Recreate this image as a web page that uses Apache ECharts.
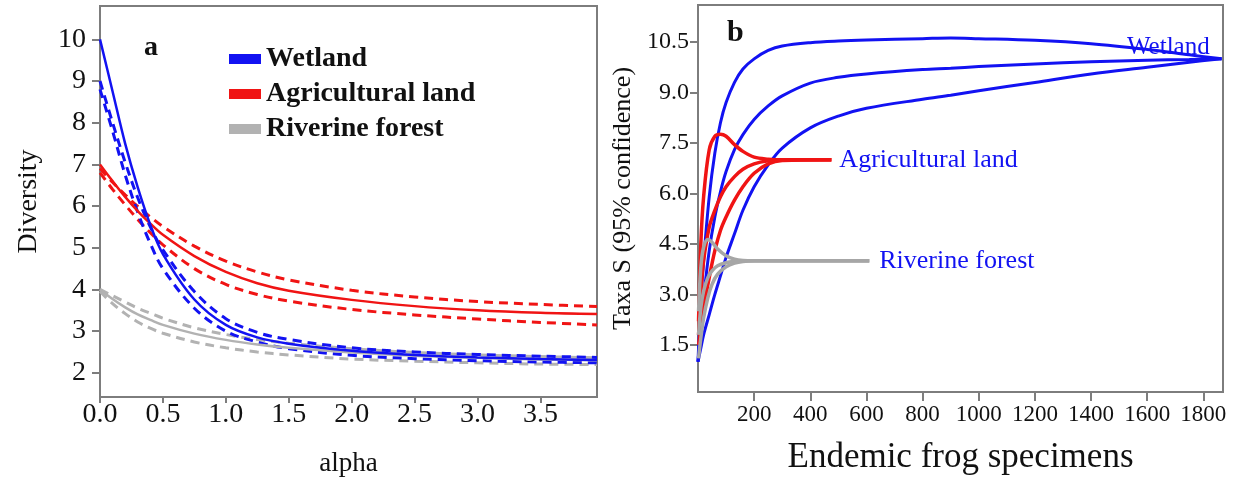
<!DOCTYPE html>
<html>
<head>
<meta charset="utf-8">
<script src="https://cdn.jsdelivr.net/npm/echarts@6/dist/echarts.min.js"></script>
<style>
  html, body { margin: 0; padding: 0; background: #fff; }
  #chart { width: 1238px; height: 479px; }
</style>
</head>
<body>
<div id="chart"></div>
<script>
// panel a: diversity profiles
const alphaVals = [0, 0.1, 0.2, 0.3, 0.4, 0.5, 0.75, 1.0, 1.25, 1.5, 2.0, 2.5, 3.0, 3.5, 3.95];
const wetMid   = [10, 8.75, 7.5, 6.45, 5.55, 4.85, 3.76, 3.15, 2.85, 2.7, 2.53, 2.43, 2.37, 2.33, 2.31];
const wetHigh  = [9.0, 8.0, 7.05, 6.2, 5.5, 4.95, 3.95, 3.3, 2.97, 2.8, 2.6, 2.5, 2.44, 2.4, 2.37];
const wetLow   = [8.8, 7.8, 6.75, 5.85, 5.1, 4.5, 3.55, 3.0, 2.74, 2.58, 2.42, 2.34, 2.29, 2.26, 2.24];
const agriMid  = [7.0, 6.6, 6.22, 5.88, 5.58, 5.31, 4.8, 4.42, 4.15, 3.97, 3.75, 3.6, 3.5, 3.44, 3.41];
const agriHigh = [6.9, 6.57, 6.27, 5.99, 5.74, 5.51, 5.04, 4.68, 4.42, 4.23, 3.98, 3.82, 3.71, 3.64, 3.59];
const agriLow  = [6.8, 6.4, 6.03, 5.68, 5.36, 5.07, 4.5, 4.12, 3.88, 3.72, 3.52, 3.39, 3.29, 3.21, 3.15];
const rivMid   = [4.0, 3.77, 3.57, 3.4, 3.27, 3.15, 2.94, 2.79, 2.68, 2.6, 2.49, 2.41, 2.36, 2.32, 2.3];
const rivHigh  = [4.0, 3.85, 3.7, 3.55, 3.43, 3.31, 3.08, 2.92, 2.8, 2.71, 2.58, 2.49, 2.43, 2.39, 2.36];
const rivLow   = [3.95, 3.66, 3.42, 3.22, 3.07, 2.95, 2.74, 2.6, 2.5, 2.43, 2.33, 2.28, 2.24, 2.21, 2.2];
const alphaTicks = [0, 0.5, 1, 1.5, 2, 2.5, 3, 3.5];
const diversityTicks = [2, 3, 4, 5, 6, 7, 8, 9, 10];

// panel b: rarefaction curves
const wetX   = [0, 10, 20, 40, 60, 80, 100, 130, 160, 200, 250, 300, 400, 500, 600, 800, 900, 1000, 1200, 1400, 1600, 1750, 1865];
const wetUp  = [1.0, 2.8, 4.0, 5.9, 7.2, 8.1, 8.7, 9.3, 9.7, 10.0, 10.25, 10.38, 10.48, 10.53, 10.56, 10.6, 10.62, 10.6, 10.55, 10.45, 10.28, 10.12, 10.0];
const wetS   = [1.0, 2.0, 2.9, 4.3, 5.3, 6.05, 6.65, 7.3, 7.75, 8.2, 8.6, 8.9, 9.28, 9.45, 9.55, 9.68, 9.72, 9.77, 9.85, 9.91, 9.96, 9.98, 10.0];
const wetDn  = [1.0, 1.4, 1.8, 2.4, 3.0, 3.55, 4.1, 4.8, 5.5, 6.2, 6.85, 7.35, 7.95, 8.3, 8.53, 8.8, 8.92, 9.05, 9.3, 9.55, 9.75, 9.9, 10.0];
const agriX  = [2, 10, 20, 40, 60, 80, 100, 130, 160, 200, 250, 300, 475];
const agriUp = [2.2, 4.5, 5.9, 7.3, 7.7, 7.76, 7.7, 7.45, 7.25, 7.08, 7.02, 7.0, 7.0];
const agriS  = [1.8, 3.0, 4.0, 5.0, 5.5, 5.9, 6.2, 6.5, 6.72, 6.88, 6.97, 7.0, 7.0];
const agriDn = [1.5, 2.0, 2.6, 3.5, 4.3, 4.9, 5.3, 5.8, 6.2, 6.6, 6.88, 6.98, 7.0];
const rivX   = [2, 10, 20, 35, 50, 70, 100, 130, 160, 200, 610];
const rivUp  = [2.5, 3.8, 4.4, 4.63, 4.55, 4.35, 4.15, 4.05, 4.01, 4.0, 4.0];
const rivS   = [1.8, 2.6, 3.1, 3.5, 3.7, 3.85, 3.94, 3.98, 4.0, 4.0, 4.0];
const rivDn  = [1.1, 1.7, 2.3, 2.9, 3.3, 3.6, 3.82, 3.93, 3.98, 4.0, 4.0];
const specTicks = [200, 400, 600, 800, 1000, 1200, 1400, 1600, 1800];
const taxaTicks = [1.5, 3, 4.5, 6, 7.5, 9, 10.5];

const BLUE = '#1212f2', RED = '#f01414', GREY = '#b2b2b2', GREY_B = '#a6a6a6', AXIS = '#7d7d7d';
const SERIF = '"Liberation Serif", "DejaVu Serif", serif';

const pairs = (xs, ys) => xs.map((x, i) => [x, ys[i]]);

function curveA(name, ys, color, dashed) {
  return {
    name: name, type: 'line', xAxisIndex: 0, yAxisIndex: 0,
    data: pairs(alphaVals, ys), smooth: 0.35, symbol: 'none', color: color,
    lineStyle: dashed ? { color: color, width: 3, type: [9, 6] } : { color: color, width: 2.5 },
    z: dashed ? 3 : 4
  };
}
function curveB(name, xs, ys, color, width, extra) {
  return Object.assign({
    name: name, type: 'line', xAxisIndex: 1, yAxisIndex: 1,
    data: pairs(xs, ys), smooth: 0.35, symbol: 'none', color: color,
    lineStyle: { color: color, width: width }
  }, extra || {});
}

function axisBase(ticks, fontSize, fmt, tickLen, margin) {
  return {
    axisLine: { onZero: false, lineStyle: { color: AXIS, width: 2 } },
    axisTick: { show: true, length: tickLen, customValues: ticks, lineStyle: { color: AXIS, width: 2 } },
    axisLabel: { customValues: ticks, color: '#111', fontSize: fontSize, fontFamily: SERIF, formatter: fmt, margin: margin },
    splitLine: { show: false }
  };
}

const chart = echarts.init(document.getElementById('chart'));
chart.setOption({
  animation: false,
  backgroundColor: '#fff',
  grid: [
    { left: 100, top: 6, right: 641, bottom: 82, show: true, borderColor: AXIS, borderWidth: 2, containLabel: false, outerBoundsMode: 'none' },
    { left: 698, top: 5, right: 15, bottom: 87, show: true, borderColor: AXIS, borderWidth: 2, containLabel: false, outerBoundsMode: 'none' }
  ],
  xAxis: [
    Object.assign(axisBase(alphaTicks, 28, v => v.toFixed(1), 6, 4), {
      type: 'value', gridIndex: 0, min: 0, max: 3.95,
      name: 'alpha', nameLocation: 'middle', nameGap: 53,
      nameTextStyle: { color: '#111', fontSize: 27, fontFamily: SERIF }
    }),
    Object.assign(axisBase(specTicks, 23, v => String(v), 9, 11), {
      type: 'value', gridIndex: 1, min: 0, max: 1870,
      name: 'Endemic frog specimens', nameLocation: 'middle', nameGap: 48,
      nameTextStyle: { color: '#111', fontSize: 35, fontFamily: SERIF }
    })
  ],
  yAxis: [
    Object.assign(axisBase(diversityTicks, 28, v => String(v), 8, 14), {
      type: 'value', gridIndex: 0, min: 1.42, max: 10.8,
      name: 'Diversity', nameLocation: 'middle', nameGap: 57,
      nameTextStyle: { color: '#111', fontSize: 28, fontFamily: SERIF }
    }),
    Object.assign(axisBase(taxaTicks, 24, v => v.toFixed(1), 8, 9), {
      type: 'value', gridIndex: 1, min: 0.1, max: 11.6,
      name: 'Taxa S (95% confidence)', nameLocation: 'middle', nameGap: 62,
      nameTextStyle: { color: '#111', fontSize: 26, fontFamily: SERIF }
    })
  ],
  legend: {
    data: ['Wetland', 'Agricultural land', 'Riverine forest'],
    orient: 'vertical', left: 224, top: 40, icon: 'rect',
    itemWidth: 32, itemHeight: 10, itemGap: 7,
    textStyle: { color: '#111', fontSize: 28, fontWeight: 'bold', fontFamily: SERIF }
  },
  graphic: [
    { type: 'text', left: 144, top: 34, style: { text: 'a', fill: '#111', font: 'bold 28px ' + SERIF } },
    { type: 'text', left: 727, top: 18, style: { text: 'b', fill: '#111', font: 'bold 30px ' + SERIF } },
    { type: 'text', left: 1127, top: 35, z: 10, style: { text: 'Wetland', fill: BLUE, font: '25px ' + SERIF } }
  ],
  series: [
    curveA('Riverine forest', rivMid, GREY, false),
    curveA('Riverine forest hi', rivHigh, GREY, true),
    curveA('Riverine forest lo', rivLow, GREY, true),
    curveA('Agricultural land', agriMid, RED, false),
    curveA('Agricultural land hi', agriHigh, RED, true),
    curveA('Agricultural land lo', agriLow, RED, true),
    curveA('Wetland', wetMid, BLUE, false),
    curveA('Wetland hi', wetHigh, BLUE, true),
    curveA('Wetland lo', wetLow, BLUE, true),

    curveB('b wet up', wetX, wetUp, BLUE, 3),
    curveB('b wet mid', wetX, wetS, BLUE, 3),
    curveB('b wet low', wetX, wetDn, BLUE, 3),
    curveB('b agri up', agriX, agriUp, RED, 3.5),
    curveB('b agri low', agriX, agriDn, RED, 3.5),
    curveB('b agri mid', agriX, agriS, RED, 3.5, {
      endLabel: { show: true, formatter: 'Agricultural land', color: BLUE, fontSize: 26, fontFamily: SERIF, distance: 8 }
    }),
    curveB('b riv up', rivX, rivUp, GREY_B, 3.5),
    curveB('b riv low', rivX, rivDn, GREY_B, 3.5),
    curveB('b riv mid', rivX, rivS, GREY_B, 3.5, {
      endLabel: { show: true, formatter: 'Riverine forest', color: BLUE, fontSize: 26, fontFamily: SERIF, distance: 10 }
    })
  ]
});
</script>
</body>
</html>
